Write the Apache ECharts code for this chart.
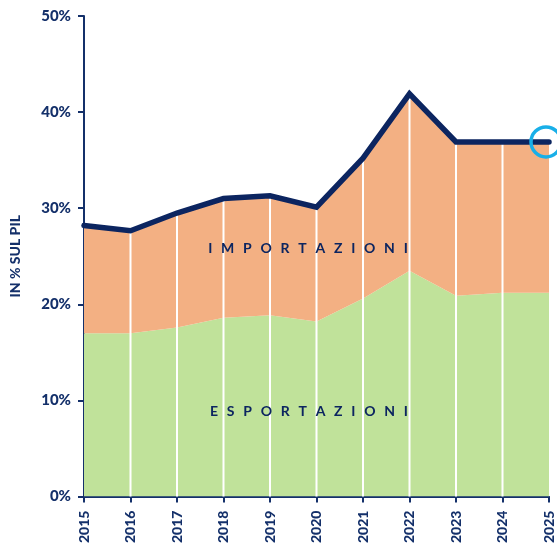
<!DOCTYPE html>
<html>
<head>
<meta charset="utf-8">
<script src="https://cdn.jsdelivr.net/npm/echarts@6/dist/echarts.min.js"></script>
<style>
html,body{margin:0;padding:0;background:#fff;}
#c{width:557px;height:546px;}
</style>
</head>
<body>
<div id="c"></div>
<script>
var years = ['2015','2016','2017','2018','2019','2020','2021','2022','2023','2024','2025'];
var exportsPct = [17.0, 17.0, 17.6, 18.6, 18.85, 18.2, 20.6, 23.5, 20.9, 21.2, 21.2];
var importsPct = [11.2, 10.65, 11.9, 12.4, 12.45, 11.9, 14.6, 18.4, 16.0, 15.7, 15.7];
var yTicks = [0, 10, 20, 30, 40, 50];
var yAxisName = 'IN % SUL PIL';
var labelImports = 'IMPORTAZIONI';
var labelExports = 'ESPORTAZIONI';

var NAVY = '#0c2560';
var TEXT = '#14306a';
var FONT = 'Lato, DejaVu Sans, sans-serif';
var total = exportsPct.map(function(v, i){ return +(v + importsPct[i]).toFixed(2); });
var gridBars = total.map(function(v, i){ return (i === 0 || i === total.length - 1) ? '-' : v; });
function spaced(s){ return s.split('').join('\u2002\u2009'); }

var chart = echarts.init(document.getElementById('c'), null, {renderer:'canvas'});
chart.setOption({
  animation: false,
  grid: {left: 81, right: 8, top: 16, bottom: 49, containLabel: false},
  xAxis: {
    type: 'category',
    data: years,
    boundaryGap: false,
    axisLine: {show: true, lineStyle: {color: TEXT, width: 2}},
    axisTick: {show: true, alignWithLabel: true, length: 6, lineStyle: {color: TEXT, width: 2}},
    axisLabel: {rotate: 90, color: TEXT, fontSize: 14, fontWeight: 900, fontFamily: FONT, margin: 14},
    splitLine: {show: false}
  },
  yAxis: {
    type: 'value',
    min: yTicks[0],
    max: yTicks[yTicks.length - 1],
    interval: 10,
    name: yAxisName,
    nameLocation: 'middle',
    nameGap: 62,
    nameTextStyle: {color: TEXT, fontSize: 14, fontWeight: 900, fontFamily: FONT},
    axisLine: {show: true, lineStyle: {color: TEXT, width: 2}},
    axisTick: {show: true, length: 6, lineStyle: {color: TEXT, width: 2}},
    axisLabel: {color: TEXT, fontSize: 15, fontWeight: 900, fontFamily: FONT, margin: 13, formatter: '{value}%'},
    splitLine: {show: false}
  },
  series: [
    {
      name: 'Esportazioni', type: 'line', stack: 'tot', data: exportsPct,
      symbol: 'none', lineStyle: {width: 0}, areaStyle: {color: '#c0e29a', opacity: 1}, z: 1
    },
    {
      name: 'Importazioni', type: 'line', stack: 'tot', data: importsPct,
      symbol: 'none', lineStyle: {width: 0}, areaStyle: {color: '#f3b083', opacity: 1}, z: 1
    },
    {
      name: 'grid', type: 'bar', data: gridBars, barWidth: 2,
      itemStyle: {color: '#ffffff'}, z: 2, silent: true
    },
    {
      name: 'Totale', type: 'line', data: total, symbol: 'none', z: 4,
      lineStyle: {color: NAVY, width: 5.5, cap: 'round', join: 'miter'},
      markPoint: {
        symbol: 'circle', symbolSize: 30, silent: true,
        itemStyle: {color: 'rgba(0,0,0,0)', borderColor: '#19afe8', borderWidth: 3.5},
        label: {show: false},
        data: [{coord: [years[years.length - 1], total[total.length - 1]], symbolOffset: [-3, 0]}]
      }
    }
  ],
  graphic: [
    {type: 'text', x: 308, y: 248, z: 10,
     style: {text: spaced(labelImports), fill: NAVY, align: 'center', verticalAlign: 'middle', font: 'bold 14px ' + FONT}},
    {type: 'text', x: 309, y: 411, z: 10,
     style: {text: spaced(labelExports), fill: NAVY, align: 'center', verticalAlign: 'middle', font: 'bold 14px ' + FONT}}
  ]
});
</script>
</body>
</html>
